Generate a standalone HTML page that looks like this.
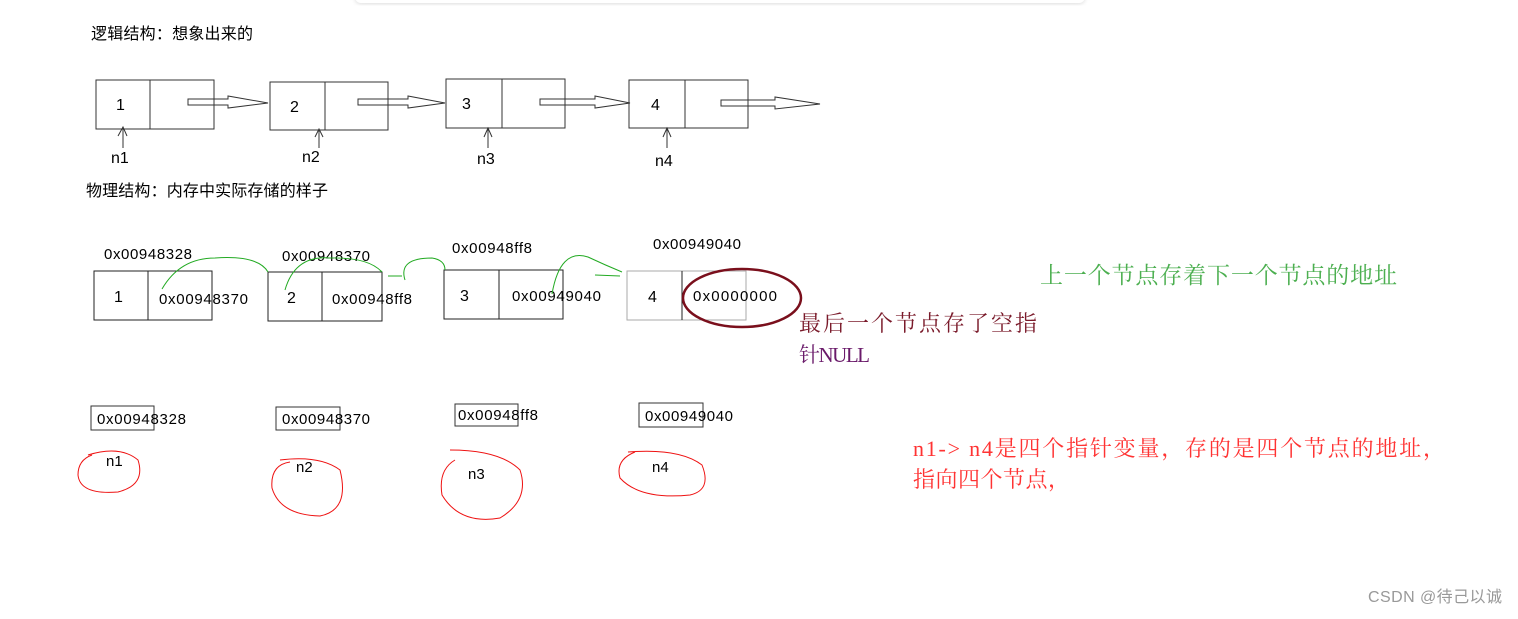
<!DOCTYPE html>
<html><head><meta charset="utf-8"><style>
body{margin:0;width:1518px;height:614px;background:#fff;overflow:hidden;font-family:"Liberation Sans","Noto Sans CJK SC",sans-serif}
svg text{font-family:"Liberation Sans","Noto Sans CJK SC",sans-serif}
.s{font-family:"Liberation Serif","Noto Serif CJK SC",serif !important}
</style></head><body>
<svg width="1518" height="614" xmlns="http://www.w3.org/2000/svg">
<defs><filter id="sh"><feGaussianBlur stdDeviation="2"/></filter></defs>
<rect x="355" y="-10" width="730" height="14" rx="6" fill="#ddd" filter="url(#sh)"/>
<rect x="355" y="-10" width="730" height="13" rx="6" fill="#fff"/>
<g font-size="16" fill="#000">
<text x="91" y="39" textLength="162">逻辑结构：想象出来的</text>
<text x="86" y="196" textLength="242">物理结构：内存中实际存储的样子</text>
</g>
<g fill="none" stroke="#333" stroke-width="1">
<rect x="96" y="80" width="118" height="49"/><line x1="150" y1="80" x2="150" y2="129"/>
<rect x="270" y="82" width="118" height="48"/><line x1="325" y1="82" x2="325" y2="130"/>
<rect x="446" y="79" width="119" height="49"/><line x1="502" y1="79" x2="502" y2="128"/>
<rect x="629" y="80" width="119" height="48"/><line x1="685" y1="80" x2="685" y2="128"/>
<path d="M188 99 H228 V96 L268 103 L228 108 V105 H188 Z"/>
<path d="M358 99 H408 V96 L445 103 L408 108 V105 H358 Z"/>
<path d="M540 99 H595 V96 L630 103 L595 108 V105 H540 Z"/>
<path d="M721 100 H775 V97 L820 104 L775 109 V106 H721 Z"/>
<path d="M123 148 V127 M118 136 L123 127 L127 136"/>
<path d="M319 148 V129 M315 137 L319 129 L323 137"/>
<path d="M488 148 V128 M484 137 L488 128 L492 137"/>
<path d="M667 148 V128 M663 137 L667 128 L671 137"/>
</g>
<g font-size="16" fill="#000">
<text x="116" y="110">1</text><text x="290" y="112">2</text><text x="462" y="109">3</text><text x="651" y="110">4</text>
<text x="111" y="163">n1</text><text x="302" y="162">n2</text><text x="477" y="164">n3</text><text x="655" y="166">n4</text>
</g>
<g fill="none" stroke="#222" stroke-width="1">
<rect x="94" y="271" width="118" height="49"/><line x1="148" y1="271" x2="148" y2="320"/>
<rect x="268" y="272" width="114" height="49"/><line x1="322" y1="272" x2="322" y2="321"/>
<rect x="444" y="270" width="119" height="49"/><line x1="499" y1="270" x2="499" y2="319"/>
<rect x="627" y="271" width="119" height="49" stroke="#aaa"/><line x1="682" y1="271" x2="682" y2="320"/>
</g>
<g font-size="15" fill="#000">
<text x="104" y="259" textLength="88">0x00948328</text><text x="282" y="261" textLength="88">0x00948370</text><text x="452" y="253" textLength="80">0x00948ff8</text><text x="653" y="249" textLength="88">0x00949040</text>
<text x="114" y="302" font-size="16">1</text><text x="287" y="303" font-size="16">2</text><text x="460" y="301" font-size="16">3</text><text x="648" y="302" font-size="16">4</text>
<text x="159" y="304" textLength="89">0x00948370</text><text x="332" y="304" textLength="80">0x00948ff8</text><text x="512" y="301" textLength="89">0x00949040</text><text x="693" y="301" textLength="84">0x0000000</text>
</g>
<g fill="none" stroke="#2a2" stroke-width="1">
<path d="M162 289 Q180 258 215 258 Q258 255 268 272"/>
<path d="M285 290 Q295 255 330 258 Q368 257 382 272"/>
<path d="M405 280 Q398 258 432 258 Q445 260 445 270"/>
<path d="M402 276 L388 276"/>
<path d="M552 294 Q560 248 588 257 Q605 265 622 272"/>
<path d="M595 275 L620 276"/>
</g>
<ellipse cx="742" cy="298" rx="59" ry="29" fill="none" stroke="#7a0f1c" stroke-width="2.5"/>
<text x="799" y="331" font-size="22" fill="#7a1a2a" class="s" textLength="238">最后一个节点存了空指</text>
<text x="799" y="362" font-size="21" fill="#6a1a6a" class="s" textLength="71">针NULL</text>
<text x="1040" y="283" font-size="23" fill="#4caf50" class="s" textLength="357">上一个节点存着下一个节点的地址</text>
<g fill="none" stroke="#333" stroke-width="1">
<rect x="91" y="406" width="63" height="24"/><rect x="276" y="407" width="64" height="23"/><rect x="455" y="404" width="63" height="22"/><rect x="639" y="403" width="64" height="24"/>
</g>
<g font-size="15" fill="#000">
<text x="97" y="424" textLength="89">0x00948328</text><text x="282" y="424" textLength="88">0x00948370</text><text x="458" y="420" textLength="80">0x00948ff8</text><text x="645" y="421" textLength="88">0x00949040</text>
<text x="106" y="466">n1</text><text x="296" y="472">n2</text><text x="468" y="479">n3</text><text x="652" y="472">n4</text>
</g>
<g fill="none" stroke="#e11" stroke-width="1">
<path d="M88 455 Q120 445 138 460 Q146 485 118 492 Q80 495 78 475 Q78 460 92 455"/>
<path d="M280 460 Q320 455 340 470 Q350 510 320 516 Q280 515 272 488 Q270 465 290 462"/>
<path d="M450 450 Q500 450 520 470 Q530 500 500 518 Q460 525 442 495 Q438 470 455 460"/>
<path d="M628 452 Q680 448 702 465 Q712 490 690 495 Q640 500 620 478 Q615 460 635 452"/>
</g>
<text x="913" y="456" font-size="22" fill="#f33" class="s" textLength="532">n1-&gt; n4是四个指针变量，存的是四个节点的地址，</text>
<text x="913" y="487" font-size="22" fill="#f33" class="s" textLength="157">指向四个节点，</text>
<text x="1368" y="602" font-size="16" fill="#999" textLength="134">CSDN @待己以诚</text>
</svg>
</body></html>
